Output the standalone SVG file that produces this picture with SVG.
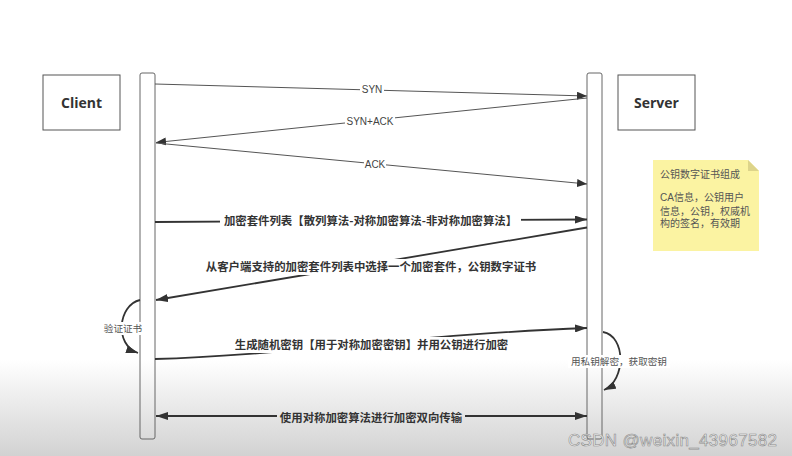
<svg xmlns="http://www.w3.org/2000/svg" width="792" height="456" viewBox="0 0 792 456">
<defs>
<linearGradient id="bg" x1="0" y1="0" x2="0" y2="1">
<stop offset="0" stop-color="#ffffff"/>
<stop offset="1" stop-color="#d2d2d2"/>
</linearGradient>
<marker id="a" viewBox="0 0 10 8" refX="10" refY="4" markerWidth="10" markerHeight="8" markerUnits="userSpaceOnUse" orient="auto">
<path d="M0,0 L10,4 L0,8 Z" fill="#333"/>
</marker>
<marker id="ab" viewBox="0 0 12 8" refX="12" refY="4" markerWidth="12" markerHeight="8" markerUnits="userSpaceOnUse" orient="auto">
<path d="M0,0 L12,4 L0,8 Z" fill="#333"/>
</marker>
<marker id="abs" viewBox="0 0 12 8" refX="0" refY="4" markerWidth="12" markerHeight="8" markerUnits="userSpaceOnUse" orient="auto">
<path d="M12,0 L0,4 L12,8 Z" fill="#333"/>
</marker>
</defs>
<style>
.box{fill:#fff;stroke:#555;stroke-width:1}
.life{fill:none;stroke:#666;stroke-width:1}
.title{font-family:"Open Sans","Liberation Sans",sans-serif;font-weight:bold;font-size:14px;fill:#333;text-anchor:middle}
.thin{fill:none;stroke:#555;stroke-width:1}
.thick{fill:none;stroke:#333;stroke-width:1.8}
.lt{font-family:"Liberation Sans","Noto Sans CJK SC",sans-serif;font-size:10px;fill:#444;text-anchor:middle}
.bt{font-family:"Noto Sans CJK SC",sans-serif;font-weight:bold;font-size:11.4px;fill:#333;text-anchor:middle}
.st{font-family:"Noto Sans CJK SC",sans-serif;font-size:9.6px;fill:#555;text-anchor:middle}
.nt{font-family:"Liberation Sans","Noto Sans CJK SC",sans-serif;font-size:10px;fill:#555}
.lb{fill:#fff}
</style>
<rect x="0" y="0" width="792" height="456" fill="#fff"/>
<rect x="0" y="360" width="792" height="96" fill="url(#bg)"/>

<g id="client">
<rect class="box" x="43" y="75" width="77" height="55"/>
<text class="title" x="81.5" y="108">Client</text>
</g>
<g id="client-lifeline">
<rect class="life" x="140" y="73" width="15" height="366" rx="2"/>
</g>
<g id="server">
<rect class="box" x="618" y="75" width="77" height="55"/>
<text class="title" x="656.5" y="108">Server</text>
</g>
<g id="server-lifeline">
<rect class="life" x="587" y="73" width="15" height="366" rx="2"/>
</g>
<g id="note">
<path d="M653,160 L748,160 L759,171 L759,251 L653,251 Z" fill="#fbf3a2"/>
<path d="M748,160 L759,171 L748,171 Z" fill="#ddd48a"/>
<text class="nt" x="660" y="178">公钥数字证书组成</text>
<text class="nt" x="660" y="201">CA信息，公钥用户</text>
<text class="nt" x="660" y="215">信息，公钥，权威机</text>
<text class="nt" x="660" y="227">构的签名，有效期</text>
</g>

<g id="connectors">
<line class="thin" x1="155" y1="84" x2="587" y2="96" marker-end="url(#a)"/>
<rect class="lb" x="360" y="83" width="24" height="12"/>
<text class="lt" x="372" y="93">SYN</text>

<line class="thin" x1="587" y1="98" x2="156" y2="142.5" marker-end="url(#a)"/>
<rect class="lb" x="345" y="115" width="50" height="12"/>
<text class="lt" x="370" y="125">SYN+ACK</text>

<line class="thin" x1="156" y1="143" x2="587" y2="184" marker-end="url(#a)"/>
<rect class="lb" x="364" y="158" width="22" height="12"/>
<text class="lt" x="375" y="168">ACK</text>

<line class="thick" x1="155" y1="222" x2="587" y2="219.5" marker-end="url(#ab)"/>
<rect class="lb" x="220" y="213" width="301" height="16"/>
<text class="bt" x="370.5" y="225">加密套件列表【散列算法-对称加密算法-非对称加密算法】</text>

<line class="thick" x1="587" y1="227.5" x2="156" y2="300" marker-end="url(#ab)"/>
<rect class="lb" x="202" y="259" width="338" height="16"/>
<text class="bt" x="371" y="271">从客户端支持的加密套件列表中选择一个加密套件，公钥数字证书</text>

<path class="thick" d="M140,300 C118,305 114,345 138,353" marker-end="url(#ab)"/>
<rect class="lb" x="103" y="322" width="40" height="13"/>
<text class="st" x="123" y="332">验证证书</text>

<path class="thick" d="M155,359 C280,356 420,334 587,328" marker-end="url(#ab)"/>
<rect class="lb" x="232" y="337" width="279" height="16"/>
<text class="bt" x="371.5" y="349">生成随机密钥【用于对称加密密钥】并用公钥进行加密</text>

<path class="thick" d="M603,332 C626,336 626,380 604,390" marker-end="url(#ab)"/>
<rect class="lb" x="568" y="355" width="102" height="13"/>
<text class="st" x="619" y="365">用私钥解密，获取密钥</text>

<line class="thick" x1="156" y1="416" x2="277" y2="416" marker-start="url(#abs)"/>
<line class="thick" x1="465" y1="416" x2="587" y2="416" marker-end="url(#ab)"/>
<text class="bt" x="371" y="422">使用对称加密算法进行加密双向传输</text>
</g>

<text x="568" y="446" textLength="209" font-family="Liberation Sans, sans-serif" font-size="17" fill="#f2f2f2" stroke="#8a8a8a" stroke-width="0.6">CSDN @weixin_43967582</text>
</svg>
